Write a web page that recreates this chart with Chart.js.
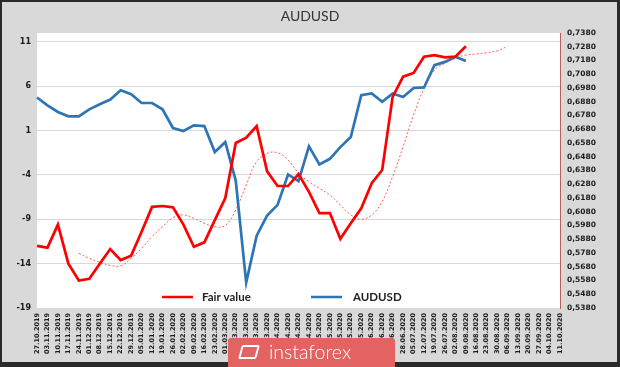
<!DOCTYPE html>
<html>
<head>
<meta charset="utf-8">
<script src="https://cdn.jsdelivr.net/npm/chart.js@4/dist/chart.umd.min.js"></script>
<style>
  html, body { margin: 0; padding: 0; background: #d9d9d9; }
  #wrap { position: relative; width: 620px; height: 367px; background: #d9d9d9; overflow: hidden; }
  #frame { position: absolute; left: 0; top: 0; width: 620px; height: 367px; box-sizing: border-box;
    border-style: solid; border-color: #2a2a2a; border-width: 2px 3px 5px 2px; pointer-events: none; }
  #mark { position: absolute; left: 228px; top: 338px; width: 167px; height: 29px; background: #e36262;
    border-radius: 3px 3px 0 0; color: #fff; font-family: Lato, sans-serif; font-weight: 300; font-size: 19.5px; line-height: 28px; }
  #mark .logo { position: absolute; left: 12px; top: 7px; width: 18px; height: 14px; border: 2px solid #fff;
    border-radius: 2px; box-sizing: border-box; transform: skewX(-15deg); }
  #mark .txt { position: absolute; left: 41px; top: 0; }
</style>
</head>
<body>
<div id="wrap">
  <canvas id="chartCanvas" width="620" height="367"></canvas>
  <div id="frame"></div>
  <div id="mark"><span class="logo"></span><span class="txt">instaforex</span></div>
</div>
<script>
const dates = ['27.10.2019','03.11.2019','10.11.2019','17.11.2019','24.11.2019','01.12.2019','08.12.2019',
  '15.12.2019','22.12.2019','29.12.2019','05.01.2020','12.01.2020','19.01.2020','26.01.2020','02.02.2020',
  '09.02.2020','16.02.2020','23.02.2020','01.03.2020','08.03.2020','15.03.2020','22.03.2020','29.03.2020',
  '05.04.2020','12.04.2020','19.04.2020','26.04.2020','03.05.2020','10.05.2020','17.05.2020','24.05.2020',
  '31.05.2020','07.06.2020','14.06.2020','21.06.2020','28.06.2020','05.07.2020','12.07.2020','19.07.2020',
  '26.07.2020','02.08.2020','09.08.2020','16.08.2020','23.08.2020','30.08.2020','06.09.2020','13.09.2020',
  '20.09.2020','27.09.2020','04.10.2020','11.10.2020'];

// left axis
const fairValue = [-12.0, -12.2, -9.6, -14.0, -15.9, -15.7, -14.0, -12.35, -13.6, -13.1,
  -10.4, -7.6, -7.5, -7.65, -9.6, -12.1, -11.6, -9.1, -6.6, -0.4,
  0.2, 1.5, -3.6, -5.25, -5.25, -3.9, -5.9, -8.3, -8.3, -11.2,
  -9.45, -7.76, -4.94, -3.44, 4.8, 7.08, 7.5, 9.33, 9.5, 9.25,
  9.33, 10.5];

// dotted, left axis
const fairTrend = [null, null, null, null, -12.83, -13.4, -13.85, -14.2, -14.25, -13.4,
  -12.27, -10.96, -9.84, -8.82, -8.5, -8.9, -9.45, -9.84, -9.7, -7.95,
  -5.13, -2.5, -1.56, -1.5, -2.3, -3.8, -4.76, -5.5, -6.26, -7.39,
  -8.5, -9.0, -8.5, -7.0, -4.2, -0.82, 2.76, 5.77, 7.83, 8.59,
  9.15, 9.52, 9.64, 9.78, 10.0, 10.5];

// right axis
const audusd = [0.6911, 0.6854, 0.6806, 0.6774, 0.6774, 0.6825, 0.6862, 0.6896, 0.6964, 0.6935,
  0.6871, 0.6871, 0.6825, 0.6689, 0.6667, 0.6708, 0.6703, 0.6514, 0.6587, 0.6307,
  0.5565, 0.5906, 0.6052, 0.6130, 0.6351, 0.6302, 0.6555, 0.6424, 0.6465, 0.6550,
  0.6623, 0.6927, 0.6940, 0.6879, 0.6940, 0.6915, 0.6980, 0.6984, 0.7146, 0.7170,
  0.7207, 0.7176];

const leftTicks = [-19, -14, -9, -4, 1, 6, 11];
const rightTicks = [0.538, 0.548, 0.558, 0.568, 0.578, 0.588, 0.598, 0.608, 0.618, 0.628, 0.638,
  0.648, 0.658, 0.668, 0.678, 0.688, 0.698, 0.708, 0.718, 0.728, 0.738];

const RED = '#ff0000', BLUE = '#2e75b6';

const plotBg = {
  id: 'plotBg',
  beforeDraw(chart) {
    const { ctx, chartArea: a } = chart;
    ctx.save();
    ctx.fillStyle = '#ffffff';
    ctx.fillRect(a.left, a.top, a.right - a.left, a.bottom - a.top);
    ctx.restore();
  }
};

// legend sits inside the plot, near the bottom
const innerLegend = {
  id: 'innerLegend',
  afterDraw(chart) {
    const { ctx, chartArea: a } = chart;
    const y = a.bottom - 11;
    const items = [
      { label: 'Fair value', color: RED, x: a.left + 125 },
      { label: 'AUDUSD', color: BLUE, x: a.left + 274 }
    ];
    ctx.save();
    ctx.font = 'bold 11.5px Lato, sans-serif';
    ctx.textBaseline = 'middle';
    items.forEach(it => {
      ctx.strokeStyle = it.color;
      ctx.lineWidth = 2.5;
      ctx.beginPath();
      ctx.moveTo(it.x, y);
      ctx.lineTo(it.x + 31, y);
      ctx.stroke();
      ctx.fillStyle = '#1f1f1f';
      ctx.fillText(it.label, it.x + (it.label === 'AUDUSD' ? 42 : 40), y);
    });
    ctx.restore();
  }
};

const tickFont = { family: 'DejaVu Sans', weight: 'bold' };

new Chart(document.getElementById('chartCanvas'), {
  type: 'line',
  data: {
    labels: dates,
    datasets: [
      { label: 'Fair value', data: fairValue, borderColor: RED, borderWidth: 2.7, pointRadius: 0, tension: 0, yAxisID: 'y' },
      { label: 'AUDUSD', data: audusd, borderColor: BLUE, borderWidth: 2.7, pointRadius: 0, tension: 0, yAxisID: 'y2' },
      { label: 'Trend', data: fairTrend, borderColor: '#ff5c5c', borderWidth: 1, borderDash: [2, 2], pointRadius: 0, tension: 0.4, yAxisID: 'y' }
    ]
  },
  options: {
    responsive: false,
    animation: false,
    layout: { padding: 0 },
    plugins: {
      legend: { display: false },
      tooltip: { enabled: false },
      title: {
        display: true, text: 'AUDUSD', color: '#333333',
        font: { family: 'Lato', size: 14, weight: 'normal' },
        padding: { top: 8, bottom: 8.2 }
      }
    },
    scales: {
      x: {
        offset: false,
        grid: { display: false, drawTicks: false },
        border: { display: false },
        ticks: {
          autoSkip: false, minRotation: 90, maxRotation: 90, padding: 5,
          color: '#1a1a1a', font: { ...tickFont, size: 6.5 }
        },
        afterFit(s) { s.height = 59; }
      },
      y: {
        position: 'left',
        min: -19, max: 12,
        grid: { color: '#d9d9d9', lineWidth: 1, drawTicks: false },
        border: { display: false },
        ticks: { padding: 6, color: '#1a1a1a', font: { ...tickFont, size: 8 } },
        afterBuildTicks(s) { s.ticks = leftTicks.map(v => ({ value: v })); },
        afterFit(s) { s.width = 37; }
      },
      y2: {
        position: 'right',
        min: 0.538, max: 0.738,
        grid: { display: false, drawTicks: false },
        border: { display: true, color: '#b8605a', width: 1 },
        ticks: {
          padding: 7, color: '#1a1a1a', font: { ...tickFont, size: 7.5 },
          callback: v => v.toFixed(4).replace('.', ',')
        },
        afterBuildTicks(s) { s.ticks = rightTicks.map(v => ({ value: v })); },
        afterFit(s) { s.width = 60; }
      }
    }
  },
  plugins: [plotBg, innerLegend]
});
</script>
</body>
</html>
